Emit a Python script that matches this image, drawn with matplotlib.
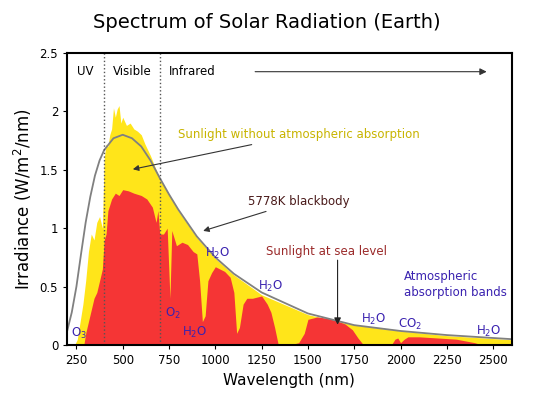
import numpy as np
import matplotlib.pyplot as plt

# blackbody curve (5778K, scaled)
bb_wl = [200, 225, 250, 275, 300, 325, 350, 375, 400, 450, 500, 550, 600, 650, 700, 750, 800,
         900, 1000, 1100, 1250, 1500, 1750, 2000, 2250, 2500, 2600]
bb_irr = [0.12, 0.28, 0.5, 0.78, 1.05, 1.27, 1.45, 1.58, 1.67, 1.77, 1.80, 1.77, 1.70, 1.58, 1.43,
          1.29, 1.16, 0.93, 0.75, 0.61, 0.45, 0.27, 0.17, 0.12, 0.085, 0.06, 0.05]

# sunlight without atmospheric absorption
top_wl = [240, 255, 270, 285, 300, 315, 330, 345, 360, 375, 390, 400, 410, 420, 430, 440, 450,
          460, 470, 480, 490, 500, 520, 540, 560, 580, 600, 620, 650, 680, 700, 750, 800,
          900, 1000, 1100, 1250, 1500, 1750, 2000, 2250, 2500, 2600]
top_irr = [0.0, 0.05, 0.2, 0.35, 0.55, 0.8, 0.95, 0.9, 1.05, 1.1, 1.0, 1.6, 1.72, 1.7, 1.8, 1.85,
           2.03, 1.95, 2.02, 2.05, 1.9, 1.95, 1.88, 1.9, 1.85, 1.83, 1.8, 1.72, 1.62, 1.5, 1.42,
           1.29, 1.15, 0.92, 0.74, 0.6, 0.43, 0.26, 0.17, 0.12, 0.08, 0.055, 0.045]

# sunlight at sea level
sea_wl = [290, 300, 315, 330, 345, 360, 375, 390, 400, 410, 420, 440, 460, 480, 500, 530, 560,
          600, 630, 660, 680, 690, 700, 720, 740, 755, 765, 790, 820, 850, 880, 900, 915, 930,
          945, 960, 980, 1000, 1050, 1080, 1100, 1115, 1130, 1150, 1170, 1200, 1250, 1280, 1300,
          1320, 1340, 1400, 1450, 1480, 1500, 1550, 1600, 1650, 1700, 1740, 1770, 1800, 1950,
          1970, 1985, 2000, 2020, 2040, 2100, 2200, 2300, 2400, 2440]
sea_irr = [0.0, 0.1, 0.2, 0.3, 0.4, 0.45, 0.55, 0.65, 0.9, 0.95, 1.15, 1.25, 1.3, 1.28, 1.33,
           1.32, 1.3, 1.28, 1.25, 1.18, 1.05, 1.15, 0.95, 0.95, 1.0, 0.4, 0.98, 0.85, 0.88, 0.86,
           0.8, 0.78, 0.55, 0.2, 0.25, 0.55, 0.62, 0.67, 0.63, 0.58, 0.45, 0.1, 0.15, 0.35, 0.4,
           0.4, 0.42, 0.35, 0.28, 0.15, 0.0, 0.0, 0.02, 0.1, 0.22, 0.24, 0.23, 0.21, 0.18, 0.13,
           0.06, 0.0, 0.0, 0.05, 0.06, 0.02, 0.05, 0.07, 0.07, 0.06, 0.05, 0.02, 0.0]

fig = plt.figure(figsize=(5.33, 4), dpi=100)
ax = fig.add_axes([0.126, 0.1375, 0.834, 0.73])

ax.fill_between(top_wl, top_irr, color="#ffe51a", lw=0)
ax.fill_between(sea_wl, sea_irr, color="#f53535", lw=0)
ax.plot(bb_wl, bb_irr, color="#808080", lw=1.3)

for v in [400, 700]:
    ax.axvline(v, color="#555555", ls=":", lw=1)

ax.set_xlim(200, 2600)
ax.set_ylim(0, 2.5)
ax.set_xticks([250, 500, 750, 1000, 1250, 1500, 1750, 2000, 2250, 2500])
ax.set_yticks([0, 0.5, 1, 1.5, 2, 2.5])
ax.set_yticklabels(["0", "0.5", "1", "1.5", "2", "2.5"])
ax.tick_params(labelsize=8.5, length=3)
for s in ax.spines.values():
    s.set_linewidth(1.5)

ax.set_xlabel("Wavelength (nm)", fontsize=11)
ax.set_ylabel("Irradiance (W/m$^2$/nm)", fontsize=12)
fig.text(0.5, 0.945, "Spectrum of Solar Radiation (Earth)", ha="center", va="center", fontsize=14)

ax.text(300, 2.34, "UV", ha="center", va="center", fontsize=8.5)
ax.text(550, 2.34, "Visible", ha="center", va="center", fontsize=8.5)
ax.text(750, 2.34, "Infrared", ha="left", va="center", fontsize=8.5)
ax.annotate("", xy=(2480, 2.34), xytext=(1200, 2.34),
            arrowprops=dict(arrowstyle="-|>", color="#333333", lw=0.8))

ax.annotate("Sunlight without atmospheric absorption", xy=(540, 1.5), xytext=(800, 1.8),
            fontsize=8.5, color="#c8b400", va="center",
            arrowprops=dict(arrowstyle="-|>", color="#333333", lw=0.8))
ax.annotate("5778K blackbody", xy=(920, 0.97), xytext=(1450, 1.23),
            fontsize=8.5, color="#4a1a1a", ha="center", va="center",
            arrowprops=dict(arrowstyle="-|>", color="#333333", lw=0.8))
ax.text(1600, 0.8, "Sunlight at sea level", ha="center", va="center", fontsize=8.5, color="#9b2a2a")
ax.annotate("", xy=(1660, 0.15), xytext=(1660, 0.75),
            arrowprops=dict(arrowstyle="-|>", color="#222222", lw=0.8))
ax.text(2020, 0.52, "Atmospheric\nabsorption bands", ha="left", va="center",
        fontsize=8.5, color="#3a22b0", linespacing=1.3)

blue = "#3a22b0"
labels = [(265, 0.1, "O$_3$"), (770, 0.27, "O$_2$"), (890, 0.11, "H$_2$O"),
          (1010, 0.78, "H$_2$O"), (1300, 0.5, "H$_2$O"), (1855, 0.22, "H$_2$O"),
          (2050, 0.18, "CO$_2$"), (2475, 0.12, "H$_2$O")]
for x, y, t in labels:
    ax.text(x, y, t, ha="center", va="center", fontsize=8.5, color=blue)

fig.savefig("out.png", dpi=100)
